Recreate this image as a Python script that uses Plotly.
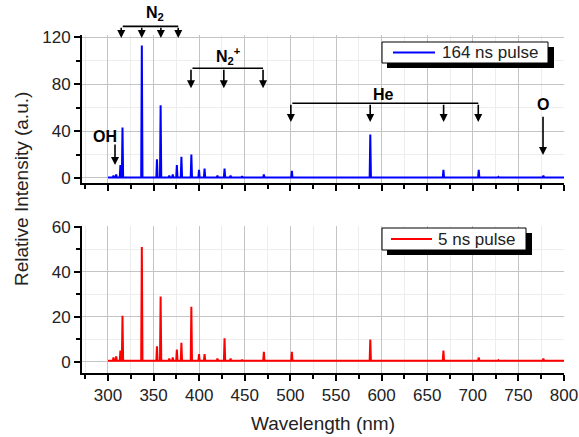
import plotly.graph_objects as go

# ---------------- data ----------------
peak_wl = [306.0, 309.0, 313.6, 315.9, 337.1, 353.7, 357.7, 367.2, 371.0, 375.5,
           380.5, 391.4, 399.8, 405.9, 420.0, 427.8, 434.4, 447.1, 470.9, 501.6,
           587.6, 667.8, 706.5, 728.1, 777.4]
int_164ns = [2, 3, 11, 43, 113, 16, 62, 2, 3, 11,
             18, 20, 7, 8, 2, 8, 2, 1.5, 3, 6,
             37, 7, 7, 1, 2]
int_5ns = [2, 2.5, 5, 20.5, 51, 7, 29, 1.5, 2, 5.5,
           8.5, 24.5, 3.5, 3.5, 1.5, 10.5, 1.5, 1, 4.5, 4.5,
           10, 5, 2, 0.8, 1.5]
baseline = 0.5
wl_start, wl_end = 300, 800
names = ["164 ns pulse", "5 ns pulse"]
colors = ["#0000ff", "#ff0000"]

x_ticks = [300, 350, 400, 450, 500, 550, 600, 650, 700, 750, 800]
y_ticks_top = [0, 40, 80, 120]
y_ticks_bot = [0, 20, 40, 60]

# line identification (wavelength of arrows, in nm)
n2_arrows = [314.5, 337, 358, 377]
n2p_arrows = [391, 427, 470]
he_arrows = [500.5, 587.5, 668, 706]
o_arrow = 777
oh_arrow = 307.7


def spectrum(wl, h, base):
    xs, ys = [wl_start], [base]
    for w, v in sorted(zip(wl, h)):
        xs += [w - 0.7, w, w + 0.7]
        ys += [base, v, base]
    xs.append(wl_end)
    ys.append(base)
    return xs, ys


fig = go.Figure()
x1, y1 = spectrum(peak_wl, int_164ns, baseline)
x2, y2 = spectrum(peak_wl, int_5ns, baseline)
fig.add_trace(go.Scatter(x=x1, y=y1, mode="lines", name=names[0],
                         line=dict(color=colors[0], width=2), xaxis="x", yaxis="y"))
fig.add_trace(go.Scatter(x=x2, y=y2, mode="lines", name=names[1],
                         line=dict(color=colors[1], width=2), xaxis="x2", yaxis="y2"))

W, H = 579, 437
def px(x):
    return x / W
def py(y):
    return 1 - y / H

TOP_DOM = [py(183), py(35)]
TOP_RANGE = [-4.3, 122]
def top_paper_y(v):
    return TOP_DOM[0] + (v - TOP_RANGE[0]) / (TOP_RANGE[1] - TOP_RANGE[0]) * (TOP_DOM[1] - TOP_DOM[0])

font = "Arial, Liberation Sans, sans-serif"
common_x = dict(range=[271.5, 800], tickvals=x_ticks, showline=True, linecolor="black",
                linewidth=2, ticks="outside", ticklen=6, tickwidth=2, tickcolor="black",
                showgrid=True, gridcolor="#c4c4c4", gridwidth=1, zeroline=False,
                automargin=False,
                minor=dict(dtick=25, tick0=0, ticks="outside", ticklen=4, tickwidth=2,
                           tickcolor="black", showgrid=True, gridcolor="#ededed"),
                tickfont=dict(family=font, size=17, color="#222"))
common_y = dict(showline=True, linecolor="black", linewidth=2, ticks="outside",
                ticklen=6, tickwidth=2, tickcolor="black", showgrid=True,
                gridcolor="#c4c4c4", gridwidth=1, zeroline=False, automargin=False,
                tickfont=dict(family=font, size=17, color="#222"))

fig.update_layout(
    width=W, height=H, margin=dict(l=0, r=0, t=0, b=0, autoexpand=False), autosize=False,
    paper_bgcolor="white", plot_bgcolor="white", showlegend=False,
    xaxis=dict(domain=[px(82), px(564)], anchor="y", showticklabels=False, **common_x),
    yaxis=dict(domain=TOP_DOM, anchor="x", range=TOP_RANGE,
               tickvals=y_ticks_top,
               minor=dict(tickvals=[20, 60, 100], ticks="outside", ticklen=4, tickwidth=2,
                          tickcolor="black", showgrid=True, gridcolor="#ededed"),
               **common_y),
    xaxis2=dict(domain=[px(82), px(564)], anchor="y2", matches="x", **common_x),
    yaxis2=dict(domain=[py(373), py(226)], anchor="x2", range=[-4.9, 60.3],
                tickvals=y_ticks_bot,
                minor=dict(tickvals=[10, 30, 50], ticks="outside", ticklen=4, tickwidth=2,
                           tickcolor="black", showgrid=True, gridcolor="#ededed"),
                **common_y),
)

ann = []
lab_font = dict(family=font, size=16, color="black")
ARW = dict(showarrow=True, arrowhead=2, arrowsize=1.0, arrowwidth=1.6,
           arrowcolor="black", standoff=0, startstandoff=0, text="")


def arrow(x, y_tail, y_tip):
    ann.append(dict(x=x, y=y_tip, ax=x, ay=y_tail, xref="x", yref="y", axref="x", ayref="y",
                    **ARW))


def hline(xa, xb, y):
    # horizontal bracket, y placed in paper units so it may sit above the axis range
    ann.append(dict(x=xb, y=top_paper_y(y), ax=xa, ay=0, xref="x", yref="paper",
                    axref="x", ayref="pixel", text="", showarrow=True, arrowhead=0,
                    arrowwidth=1.6, arrowcolor="black", standoff=0, startstandoff=0))


def label(x, y, text):
    ann.append(dict(x=x, y=top_paper_y(y), xref="x", yref="paper", text=text,
                    showarrow=False, xanchor="center", yanchor="middle", font=lab_font))


# N2
hline(n2_arrows[0], n2_arrows[-1], 129.4)
for a in n2_arrows:
    arrow(a, 129.4, 119.5)
label(352, 140.5, "<b>N<sub>2</sub></b>")
# N2+
hline(n2p_arrows[0], n2p_arrows[-1], 93.6)
for a in n2p_arrows:
    arrow(a, 93.6, 76.6)
label(431.6, 104, "<b>N<sub>2</sub><sup>+</sup></b>")
# He
hline(he_arrows[0], he_arrows[-1], 63.8)
for a in he_arrows:
    arrow(a, 63.8, 47.7)
label(602, 71, "<b>He</b>")
# O
arrow(o_arrow, 53.6, 19.6)
label(777.5, 62.5, "<b>O</b>")
# OH
arrow(oh_arrow, 29.8, 11)
label(296.7, 35, "<b>OH</b>")

# axis titles
ann.append(dict(x=px(21), y=py(189), xref="paper", yref="paper", text="Relative Intensity (a.u.)",
                textangle=-90, showarrow=False, xanchor="center", yanchor="middle",
                font=dict(family=font, size=19, color="#222")))
ann.append(dict(x=px(323), y=py(423), xref="paper", yref="paper", text="Wavelength (nm)",
                showarrow=False, xanchor="center", yanchor="middle",
                font=dict(family=font, size=19, color="#222")))

# manual legends (box with drop shadow)
legends = [
    dict(box=(382, 42, 548, 63), line=(393, 435), text_x=440, name=names[0], color=colors[0]),
    dict(box=(382, 228, 526, 250), line=(391, 432), text_x=436, name=names[1], color=colors[1]),
]
shapes = []
for lg in legends:
    bx0, by0, bx1, by1 = lg["box"]
    shapes.append(dict(type="rect", xref="paper", yref="paper", x0=px(bx0 + 5), x1=px(bx1 + 6),
                       y0=py(by1 + 5), y1=py(by0 + 5), fillcolor="black", line=dict(width=0)))
    shapes.append(dict(type="rect", xref="paper", yref="paper", x0=px(bx0), x1=px(bx1),
                       y0=py(by1), y1=py(by0), fillcolor="white",
                       line=dict(color="black", width=1)))
    ym = (by0 + by1) / 2
    shapes.append(dict(type="line", xref="paper", yref="paper", x0=px(lg["line"][0]),
                       x1=px(lg["line"][1]), y0=py(ym), y1=py(ym),
                       line=dict(color=lg["color"], width=2)))
    ann.append(dict(x=px(lg["text_x"]), y=py(ym), xref="paper", yref="paper", text=lg["name"],
                    xanchor="left", yanchor="middle", showarrow=False,
                    font=dict(family=font, size=17, color="#222")))

fig.update_layout(annotations=ann, shapes=shapes)
fig.write_html("out.html")
